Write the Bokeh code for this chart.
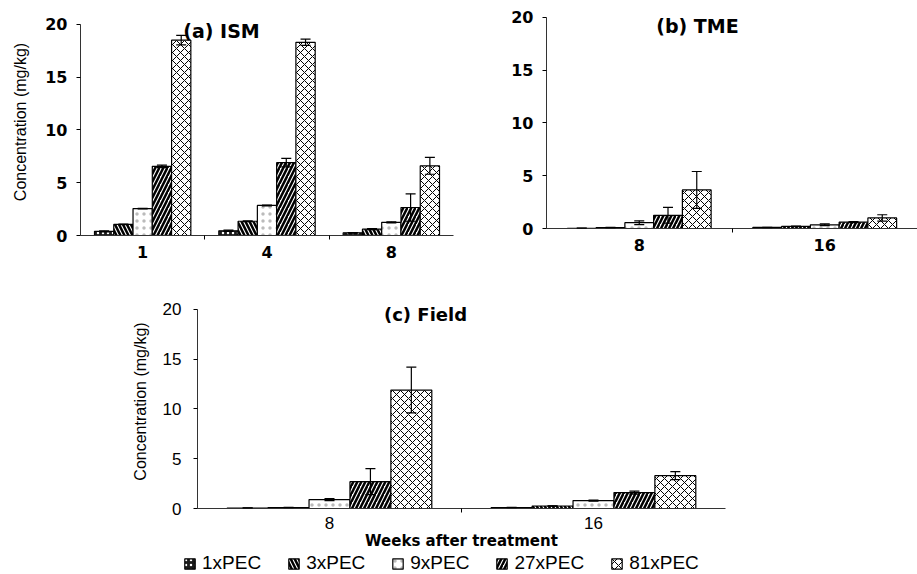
from bokeh.plotting import figure
from bokeh.layouts import column, row
from bokeh.models import (ColumnDataSource, Range1d, FixedTicker, Whisker, TeeHead,
                          Label, Legend, LegendItem)
from bokeh.embed import file_html
from bokeh.resources import INLINE

# ---------------- data ----------------
series = ["1xPEC", "3xPEC", "9xPEC", "27xPEC", "81xPEC"]

weeks_ism = ["1", "4", "8"]
ism_1x = [0.4, 0.45, 0.25]
ism_3x = [1.05, 1.35, 0.6]
ism_9x = [2.55, 2.85, 1.25]
ism_27x = [6.55, 6.9, 2.65]
ism_81x = [18.5, 18.3, 6.6]
ism_err_1x = [0.05, 0.05, 0.02]
ism_err_3x = [0.03, 0.03, 0.05]
ism_err_9x = [0.03, 0.04, 0.05]
ism_err_27x = [0.12, 0.4, 1.3]
ism_err_81x = [0.45, 0.3, 0.8]

weeks_tme = ["8", "16"]
tme_1x = [0.02, 0.1]
tme_3x = [0.08, 0.2]
tme_9x = [0.55, 0.35]
tme_27x = [1.25, 0.6]
tme_81x = [3.65, 1.0]
tme_err_1x = [0.01, 0.02]
tme_err_3x = [0.02, 0.03]
tme_err_9x = [0.18, 0.08]
tme_err_27x = [0.75, 0.05]
tme_err_81x = [1.75, 0.3]

weeks_field = ["8", "16"]
field_1x = [0.05, 0.1]
field_3x = [0.1, 0.25]
field_9x = [0.9, 0.8]
field_27x = [2.7, 1.6]
field_81x = [11.9, 3.3]
field_err_1x = [0.01, 0.01]
field_err_3x = [0.01, 0.02]
field_err_9x = [0.1, 0.05]
field_err_27x = [1.3, 0.15]
field_err_81x = [2.3, 0.4]

y_ticks = [0, 5, 10, 15, 20]

# ---------------- styles ----------------
BW = 0.155
styles = [
    dict(fill_color="#1a1a1a", hatch_pattern="dot", hatch_color="white", hatch_scale=5, hatch_weight=1),
    dict(fill_color="white", hatch_pattern="left_diagonal_line", hatch_color="black", hatch_scale=8, hatch_weight=2.5),
    dict(fill_color="white", hatch_pattern="dot", hatch_color="#777777", hatch_scale=7, hatch_weight=0.6,
         hatch_alpha=0.5),
    dict(fill_color="white", hatch_pattern="right_diagonal_line", hatch_color="black", hatch_scale=8, hatch_weight=2.5),
    dict(fill_color="white", hatch_pattern="diagonal_cross", hatch_color="black", hatch_scale=8, hatch_weight=1),
]


def style_fig(p):
    p.outline_line_color = None
    p.xgrid.visible = False
    p.ygrid.visible = False
    p.background_fill_color = "white"
    p.border_fill_color = "white"


def make_panel(weeks, vals, errs, width, height, borders, title, title_xy, title_size,
               tick_font, tick_size, tick_style, ylabel, xlabel=None, x_standoff=6):
    n = len(weeks)
    left, right, top, bottom = borders
    p = figure(width=width, height=height, output_backend="svg", toolbar_location=None,
               x_range=Range1d(0.5, n + 0.5), y_range=Range1d(0, 21.5),
               min_border_left=left, min_border_right=right,
               min_border_top=top, min_border_bottom=bottom)
    style_fig(p)

    sources = []
    for i, (v, e) in enumerate(zip(vals, errs)):
        xs = [k + 1 + (i - 2) * BW for k in range(n)]
        src = ColumnDataSource(dict(x=xs, top=v,
                                    upper=[a + b for a, b in zip(v, e)],
                                    lower=[a - b for a, b in zip(v, e)]))
        p.vbar(x="x", top="top", width=BW, bottom=0, source=src,
               line_color="black", line_width=1.2, **styles[i])
        sources.append(src)
        w = Whisker(base="x", upper="upper", lower="lower", source=src, level="overlay",
                    line_color="black", line_width=1.2,
                    upper_head=TeeHead(size=10, line_width=1.2, line_color="black"),
                    lower_head=TeeHead(size=10, line_width=1.2, line_color="black"))
        p.add_layout(w)

    # x axis: labels at group centres, short ticks between groups
    xa = p.xaxis[0]
    centres = list(range(1, n + 1))
    xa.ticker = FixedTicker(ticks=centres, minor_ticks=[c + 0.5 for c in centres[:-1]])
    xa.major_label_overrides = {c: w for c, w in zip(centres, weeks)}
    xa.major_tick_line_color = None
    xa.major_tick_out = 0
    xa.major_tick_in = 0
    xa.minor_tick_out = 4
    xa.minor_tick_in = 0
    xa.minor_tick_line_color = "black"
    xa.axis_line_color = "#333333"
    xa.major_label_text_font = tick_font
    xa.major_label_text_font_size = tick_size
    xa.major_label_text_font_style = tick_style
    xa.major_label_text_color = "black"
    xa.major_label_standoff = x_standoff

    ya = p.yaxis[0]
    ya.bounds = (0, 20)
    ya.ticker = FixedTicker(ticks=y_ticks)
    ya.minor_tick_line_color = None
    ya.major_tick_out = 4
    ya.major_tick_in = 0
    ya.axis_line_color = "#333333"
    ya.major_label_text_font = tick_font
    ya.major_label_text_font_size = tick_size
    ya.major_label_text_font_style = tick_style
    ya.major_label_text_color = "black"
    ya.major_label_standoff = 9
    if ylabel:
        ya.axis_label = ylabel
        ya.axis_label_text_font = "Liberation Sans"
        ya.axis_label_text_font_size = "16px"
        ya.axis_label_text_font_style = "normal"
        ya.axis_label_text_color = "black"
        ya.axis_label_standoff = 13
    if xlabel:
        xa.axis_label = xlabel
        xa.axis_label_text_font = "DejaVu Sans"
        xa.axis_label_text_font_size = "15px"
        xa.axis_label_text_font_style = "bold"
        xa.axis_label_text_color = "black"
        xa.axis_label_standoff = 0

    p.add_layout(Label(x=title_xy[0], y=title_xy[1], x_units="screen", y_units="screen",
                       text=title, text_align="center", text_baseline="middle",
                       text_font="DejaVu Sans", text_font_style="bold",
                       text_font_size=title_size, text_color="black"))
    return p, sources


pa, _ = make_panel(weeks_ism,
                   [ism_1x, ism_3x, ism_9x, ism_27x, ism_81x],
                   [ism_err_1x, ism_err_3x, ism_err_9x, ism_err_27x, ism_err_81x],
                   460, 270, (80, 7, 8, 35), "(a) ISM", (141, 205), "19px",
                   "DejaVu Sans", "16px", "bold", "Concentration (mg/kg)")

pb, _ = make_panel(weeks_tme,
                   [tme_1x, tme_3x, tme_9x, tme_27x, tme_81x],
                   [tme_err_1x, tme_err_3x, tme_err_9x, tme_err_27x, tme_err_81x],
                   457, 270, (86, 0, 1, 42), "(b) TME", (151, 203), "19px",
                   "DejaVu Sans", "16px", "bold", None)

pc, field_sources = make_panel(weeks_field,
                               [field_1x, field_3x, field_9x, field_27x, field_81x],
                               [field_err_1x, field_err_3x, field_err_9x, field_err_27x, field_err_81x],
                               917, 282, (197, 192, 24, 43), "(c) Field", (228, 194), "18px",
                               "Liberation Sans", "17px", "normal", "Concentration (mg/kg)",
                               xlabel="Weeks after treatment", x_standoff=4)
pc.yaxis[0].major_label_standoff = 12
pc.yaxis[0].axis_label_standoff = 11

# legend strip (its renderers share the field data; their view range shows no bars)
pl = figure(width=917, height=22, output_backend="svg", toolbar_location=None,
            x_range=Range1d(100, 101), y_range=Range1d(100, 101),
            x_axis_type=None, y_axis_type=None,
            min_border_left=0, min_border_right=0, min_border_top=0, min_border_bottom=0)
style_fig(pl)
leg_renderers = [pl.vbar(x="x", top="top", width=BW, bottom=0, source=src,
                         line_color="black", line_width=1.2, **styles[i])
                 for i, src in enumerate(field_sources)]
legend = Legend(items=[LegendItem(label=s, renderers=[r]) for s, r in zip(series, leg_renderers)],
                orientation="horizontal", location=(183, 0),
                label_text_font="Liberation Sans", label_text_font_size="19px",
                label_text_color="black",
                glyph_width=13, glyph_height=13, spacing=26, label_standoff=6,
                padding=0, margin=0, border_line_color=None, background_fill_alpha=0)
pl.add_layout(legend)

layout = column(row(column(pa), column(pb), spacing=0), column(pc), column(pl), spacing=0)
open("out.html", "w").write(file_html(layout, INLINE))
